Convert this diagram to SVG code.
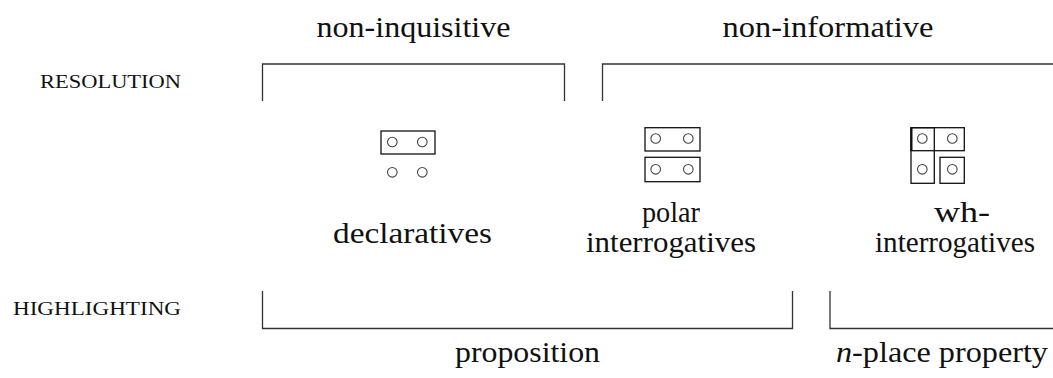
<svg xmlns="http://www.w3.org/2000/svg" width="1053" height="378" viewBox="0 0 1053 378">
<style>
.t{font-family:"Liberation Serif","DejaVu Serif",serif;font-size:30px;fill:#111;text-anchor:middle}
.sc{font-family:"Liberation Serif","DejaVu Serif",serif;font-size:19px;fill:#111;text-anchor:end}
.br{fill:none;stroke:#333;stroke-width:1.3}
.box{fill:none;stroke:#111;stroke-width:1.3}
.c{fill:none;stroke:#444;stroke-width:1.1}
</style>
<rect width="1053" height="378" fill="#fff"/>
<g id="labels">
<text class="t" x="413.5" y="36.5" textLength="194" lengthAdjust="spacingAndGlyphs">non-inquisitive</text>
<text class="t" x="828" y="36.5" textLength="211" lengthAdjust="spacingAndGlyphs">non-informative</text>
<text class="sc" x="181" y="88" textLength="141" lengthAdjust="spacingAndGlyphs">RESOLUTION</text>
<text class="sc" x="181" y="314.5" textLength="168" lengthAdjust="spacingAndGlyphs">HIGHLIGHTING</text>
<text class="t" x="527.5" y="362" textLength="145" lengthAdjust="spacingAndGlyphs">proposition</text>
<text class="t" x="942" y="362" textLength="212" lengthAdjust="spacingAndGlyphs"><tspan font-style="italic">n</tspan>-place property</text>
</g>
<g id="connectors">
<path class="br" d="M262.5,101 V64 H564.5 V101"/>
<path class="br" d="M602.5,101 V64 H1053"/>
<path class="br" d="M262.5,291 V328.5 H792.5 V291"/>
<path class="br" d="M830,291 V328.5 H1053"/>
</g>
<g id="declaratives">
<rect class="box" x="381" y="131" width="54" height="23"/>
<circle class="c" cx="392.3" cy="142" r="4.8"/>
<circle class="c" cx="422.3" cy="142" r="4.8"/>
<circle class="c" cx="392.3" cy="172.3" r="4.8"/>
<circle class="c" cx="422.3" cy="172.3" r="4.8"/>
<text class="t" x="412.5" y="243" textLength="159" lengthAdjust="spacingAndGlyphs">declaratives</text>
</g>
<g id="polar">
<rect class="box" x="645" y="127.7" width="55" height="23.3"/>
<rect class="box" x="645" y="157.3" width="55" height="24.4"/>
<circle class="c" cx="655.7" cy="138.5" r="4.8"/>
<circle class="c" cx="688.3" cy="138.5" r="4.8"/>
<circle class="c" cx="655.7" cy="169.3" r="4.8"/>
<circle class="c" cx="688.3" cy="169.3" r="4.8"/>
<text class="t" x="671" y="222" textLength="58" lengthAdjust="spacingAndGlyphs">polar</text>
<text class="t" x="671" y="252" textLength="170" lengthAdjust="spacingAndGlyphs">interrogatives</text>
</g>
<g id="wh">
<rect class="box" x="911" y="127.7" width="53.3" height="23"/>
<rect class="box" x="911" y="127.7" width="23.3" height="55.6"/>
<rect class="box" x="940" y="157.3" width="24.3" height="26"/>
<line x1="911.5" y1="127.7" x2="911.5" y2="150.7" stroke="#111" stroke-width="2"/>
<circle class="c" cx="922.3" cy="138.5" r="4.8"/>
<circle class="c" cx="952.3" cy="138.5" r="4.8"/>
<circle class="c" cx="922.3" cy="169.3" r="4.8"/>
<circle class="c" cx="952.3" cy="169.3" r="4.8"/>
<text class="t" x="962" y="222" textLength="56" lengthAdjust="spacingAndGlyphs">wh-</text>
<text class="t" x="955" y="252" textLength="160" lengthAdjust="spacingAndGlyphs">interrogatives</text>
</g>
</svg>
